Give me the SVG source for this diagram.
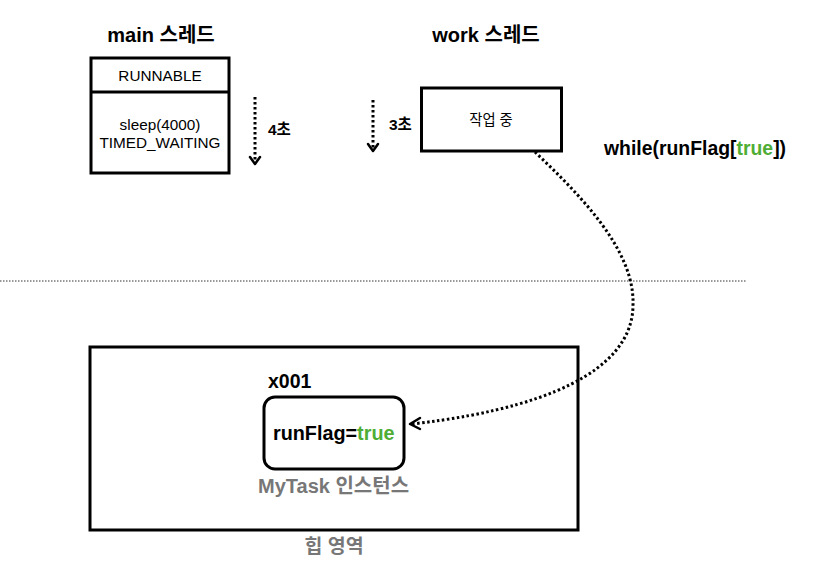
<svg xmlns="http://www.w3.org/2000/svg" width="824" height="570" viewBox="0 0 824 570">
<style>
text{font-family:"Liberation Sans","Noto Sans CJK KR",sans-serif;fill:#000}
.b{font-weight:bold}
.box{fill:#fff;stroke:#000;stroke-width:3}
.g{fill:#4fad35}
.gray{fill:#777}
.dot{fill:none;stroke:#000;stroke-width:3;stroke-dasharray:2.5 2.5}
.head{fill:none;stroke:#000;stroke-width:2.5;stroke-linecap:round;stroke-linejoin:round}
</style>
<rect width="824" height="570" fill="#fff"/>
<g id="main-thread">
<text class="b" x="161" y="42" font-size="20" text-anchor="middle">main 스레드</text>
<rect class="box" x="91" y="58" width="138" height="115"/>
<line x1="91" y1="92" x2="229" y2="92" stroke="#000" stroke-width="3"/>
<text x="160" y="81" font-size="15.3" text-anchor="middle">RUNNABLE</text>
<text x="160" y="130" font-size="15.3" text-anchor="middle">sleep(4000)</text>
<text x="160" y="148" font-size="15.3" text-anchor="middle">TIMED_WAITING</text>
</g>
<g id="work-thread">
<text class="b" x="486" y="42" font-size="20" text-anchor="middle">work 스레드</text>
<rect class="box" x="421.5" y="88" width="140" height="63"/>
<text x="491" y="125" font-size="14.3" text-anchor="middle">작업 중</text>
</g>
<g id="while-label">
<text class="b" x="604" y="155" font-size="19.4">while(runFlag[<tspan class="g">true</tspan>])</text>
</g>
<g id="heap">
<rect class="box" x="90" y="347" width="488" height="183"/>
<text class="b gray" x="334" y="553" font-size="19.5" text-anchor="middle">힙 영역</text>
</g>
<g id="mytask">
<text class="b" x="268" y="388" font-size="19.5">x001</text>
<rect class="box" x="264" y="397" width="140" height="72" rx="11" ry="11"/>
<text class="b" x="273" y="440" font-size="19.8">runFlag=<tspan class="g">true</tspan></text>
<text class="b gray" x="258" y="493" font-size="20">MyTask 인스턴스</text>
</g>
<g id="timers">
<text class="b" x="268" y="135" font-size="15.5">4초</text>
<text class="b" x="389" y="130" font-size="15.5">3초</text>
</g>
<g id="connectors">
<line x1="0" y1="281" x2="746" y2="281" stroke="#333" stroke-width="1" stroke-dasharray="1.5 1.5"/>
<line class="dot" x1="255" y1="97" x2="255" y2="163"/>
<polyline class="head" points="250,157 255,164 260,157"/>
<line class="dot" x1="373" y1="100" x2="373" y2="150"/>
<polyline class="head" points="368,144 373,151 378,144"/>
<path class="dot" d="M535,152 C580,195 635,250 633,305 C633,355 580,405 412,424"/>
<polyline class="head" points="420,418 410,424 420,429"/>
</g>
</svg>
